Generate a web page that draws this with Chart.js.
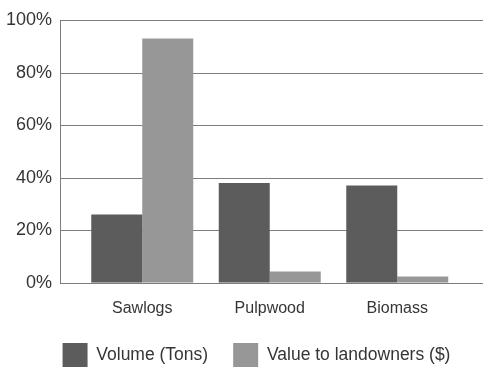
<!DOCTYPE html>
<html>
<head>
<meta charset="utf-8">
<script src="https://cdn.jsdelivr.net/npm/chart.js@4.4.0/dist/chart.umd.min.js"></script>
<style>
  html, body { margin: 0; padding: 0; background: #fff; overflow: hidden; }
  #wrap { width: 483px; height: 368px; overflow: hidden; }
  canvas { display: block; }
</style>
</head>
<body>
<div id="wrap"><canvas id="chart" width="483" height="377"></canvas></div>
<script>
// Share of harvest by product class, in percent
const categories = ['Sawlogs', 'Pulpwood', 'Biomass'];
const volumeTons = [26, 38, 37];
const valueToLandowners = [93, 4.3, 2.4];
const seriesNames = ['Volume (Tons)', 'Value to landowners ($)'];
const yTicks = [0, 20, 40, 60, 80, 100];

const FONT = "'Liberation Sans', Arial, sans-serif";
const TEXT = '#353535';
const GRID = '#7d7d7d';

// The value grid and axis line run wider than the category band,
// from a little left of the first group out to the right edge.
const frameGrid = {
  id: 'frameGrid',
  beforeDatasetsDraw(chart) {
    const { ctx, chartArea, scales } = chart;
    const x0 = chartArea.left - 18.5;
    const x1 = chart.width;
    ctx.save();
    ctx.strokeStyle = GRID;
    ctx.lineWidth = 1;
    ctx.beginPath();
    yTicks.forEach(v => {
      const y = Math.round(scales.y.getPixelForValue(v)) + 0.5;
      ctx.moveTo(x0, y);
      ctx.lineTo(x1, y);
    });
    const xa = Math.round(x0) + 0.5;
    ctx.moveTo(xa, Math.round(scales.y.getPixelForValue(100)) + 0.5);
    ctx.lineTo(xa, Math.round(scales.y.getPixelForValue(0)) + 0.5);
    ctx.stroke();
    ctx.restore();
  }
};

// Nudge the legend row so it sits under the plot band.
const legendOffset = {
  id: 'legendOffset',
  afterLayout(chart) {
    if (chart.legend) {
      chart.legend.left += 26;
      chart.legend.right += 26;
    }
  }
};

new Chart(document.getElementById('chart'), {
  type: 'bar',
  data: {
    labels: categories,
    datasets: [
      {
        label: seriesNames[0],
        data: volumeTons,
        backgroundColor: '#5c5c5c',
        borderWidth: 0
      },
      {
        label: seriesNames[1],
        data: valueToLandowners,
        backgroundColor: '#979797',
        borderWidth: 0
      }
    ]
  },
  plugins: [frameGrid, legendOffset],
  options: {
    responsive: false,
    devicePixelRatio: 1,
    animation: false,
    layout: { padding: { top: 20, left: 0, right: 22, bottom: 0 } },
    datasets: { bar: { categoryPercentage: 0.8, barPercentage: 1.0 } },
    scales: {
      x: {
        grid: { display: false, drawTicks: false },
        border: { display: false },
        afterFit: scale => { scale.height = 35.2; },
        ticks: {
          padding: 16,
          autoSkip: false,
          maxRotation: 0,
          color: TEXT,
          font: { family: FONT, size: 16 }
        }
      },
      y: {
        min: 0,
        max: 100,
        afterFit: scale => {
          scale.width = 78.5;
          scale.paddingTop = 0;
          scale.paddingBottom = 0;
        },
        afterBuildTicks: scale => {
          scale.ticks = yTicks.map(v => ({ value: v }));
        },
        grid: { display: false, drawTicks: false },
        border: { display: false },
        ticks: {
          padding: 26.5,
          color: TEXT,
          font: { family: FONT, size: 18 },
          callback: v => v + '%'
        }
      }
    },
    plugins: {
      tooltip: { enabled: false },
      legend: {
        position: 'bottom',
        align: 'center',
        labels: {
          boxWidth: 25,
          boxHeight: 24,
          padding: 25,
          color: TEXT,
          font: { family: FONT, size: 17.5 }
        }
      }
    }
  }
});
</script>
</body>
</html>
